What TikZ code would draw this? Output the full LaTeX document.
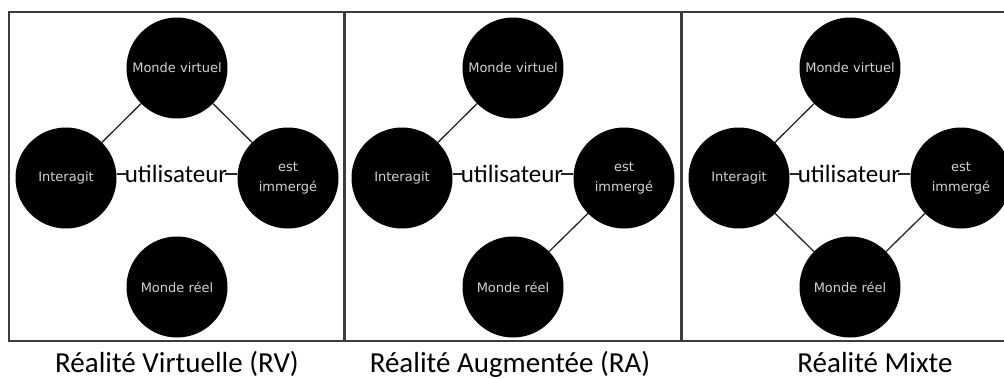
\documentclass[tikz,border=0pt]{standalone}
\usepackage{fontspec}
\setmainfont{Carlito}
\newfontfamily\labelfont{DejaVu Sans}
\usetikzlibrary{positioning, calc}
\definecolor{framegray}{HTML}{3C3C3C}
\definecolor{labelgray}{HTML}{D2D2D2}

\tikzset{
  world/.style={circle, fill=black, minimum size=101pt, inner sep=0pt, align=center,
    font=\labelfont\fontsize{13}{20}\selectfont, text=labelgray},
  link/.style={draw=black!85, line width=1.3pt},
  usertext/.style={font=\fontsize{25}{28}\selectfont, inner xsep=-2.5pt, inner ysep=0pt},
  caption/.style={font=\fontsize{29}{34}\selectfont, anchor=base}
}

\begin{document}
\begin{tikzpicture}[x=1pt, y=-1pt]
  \useasboundingbox (0,0) rectangle (1004,378);
  \clip (0,0) rectangle (1004,378);

  % Three panels: frame, four worlds, user in the middle
  \foreach \i/\x/\w/\cx/\title in {
    1/9/335/177/Réalité Virtuelle (RV),
    2/345/336/510/Réalité Augmentée (RA),
    3/682/336/875/Réalité Mixte
  } {
    \draw[framegray, line width=2pt] (\x,12) rectangle ++(\w,329);
    \node[world] (mv\i) at (\x+168,68) {Monde virtuel};
    \node[world] (in\i) at (\x+57,178) {Interagit};
    \node[world] (im\i) at (\x+279,178) {est\\immergé};
    \node[world] (mr\i) at (\x+168,287) {Monde réel};
    \node[usertext] (u\i) at (\x+167,174) {utilisateur};
    \draw[link] (u\i.west) -- (u\i.west -| in\i.east);
    \draw[link] (u\i.east) -- (u\i.east -| im\i.west);
    \node[caption] (cap\i) at (\cx,372) {\title};
  }

  % Links between worlds
  \draw[link] (mv1) -- (in1);
  \draw[link] (mv1) -- (im1);
  \draw[link] (mv2) -- (in2);
  \draw[link] (im2) -- (mr2);
  \draw[link] (mv3) -- (in3);
  \draw[link] (in3) -- (mr3);
  \draw[link] (im3) -- (mr3);
\end{tikzpicture}
\end{document}
